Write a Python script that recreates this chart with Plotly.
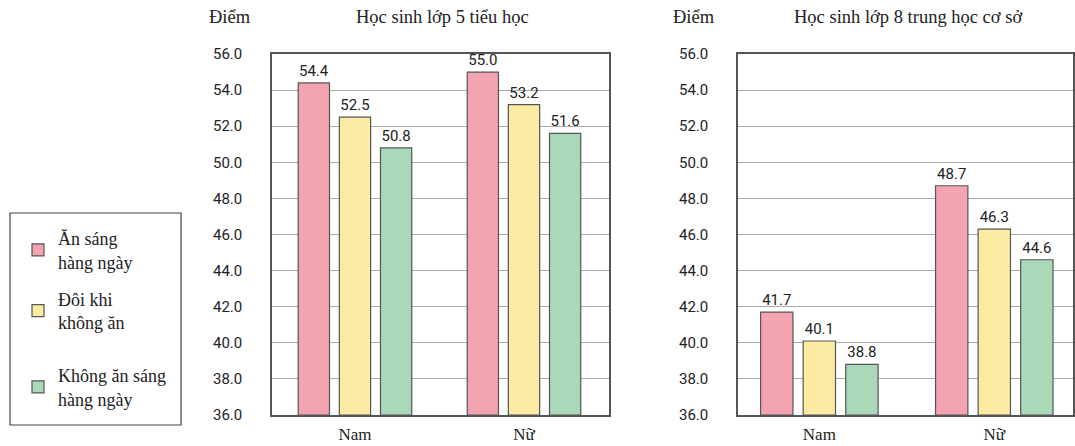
import plotly.graph_objects as go

categories = ["Nam", "Nữ"]
series_names = ["Ăn sáng<br>hàng ngày", "Đôi khi<br>không ăn", "Không ăn sáng<br>hàng ngày"]
grade5_values = [[54.4, 55.0], [52.5, 53.2], [50.8, 51.6]]
grade8_values = [[41.7, 48.7], [40.1, 46.3], [38.8, 44.6]]
y_ticks = [36.0, 38.0, 40.0, 42.0, 44.0, 46.0, 48.0, 50.0, 52.0, 54.0, 56.0]
titles = ["Học sinh lớp 5 tiểu học", "Học sinh lớp 8 trung học cơ sở"]
y_title = "Điểm"

colors = ["#F4A3B1", "#FCEBA2", "#A9D9B9"]
W, H = 1075, 446
SANS = "Liberation Sans Narrow, Arial Narrow, Roboto, sans-serif"
SERIF = "Liberation Serif, DejaVu Serif, serif"

fig = go.Figure()
legend_ids = ["legend", "legend", "legend2"]
for panel, vals in enumerate([grade5_values, grade8_values]):
    xa = "x" if panel == 0 else "x2"
    ya = "y" if panel == 0 else "y2"
    for i, name in enumerate(series_names):
        fig.add_trace(go.Bar(
            x=categories, y=[v - 36.0 for v in vals[i]], base=36.0,
            name=name, legendgroup=str(i), showlegend=(panel == 0), legend=legend_ids[i],
            marker=dict(color=colors[i], line=dict(color="#555555", width=1.2)),
            text=[f"{v:.1f}" for v in vals[i]], textposition="outside",
            textfont=dict(family=SANS, size=15, color="#222"),
            cliponaxis=False, xaxis=xa, yaxis=ya,
        ))

axis_common = dict(showline=True, linecolor="#555555", linewidth=1.5, mirror=True,
                   automargin=False, zeroline=False)
yaxis_common = dict(domain=[1 - 415 / H, 1 - 54 / H], range=[36, 56], tickvals=y_ticks,
                    ticktext=[f"{t:.1f}" for t in y_ticks], showgrid=True, gridcolor="#AAAAAA",
                    gridwidth=1, tickfont=dict(family=SANS, size=15, color="#222"),
                    ticks="", ticklabelstandoff=25, **axis_common)
xfont = dict(family=SERIF, size=17, color="#222")
tfont = dict(family=SERIF, size=18.5, color="#222")
lfont = dict(family=SERIF, size=18, color="#222")
legend_common = dict(xanchor="left", yanchor="top", font=lfont, tracegroupgap=11,
                     bgcolor="rgba(0,0,0,0)", borderwidth=0, itemwidth=30)
fig.update_layout(
    template="none",
    width=W, height=H, margin=dict(l=0, r=0, t=0, b=0, autoexpand=False),
    plot_bgcolor="white", paper_bgcolor="white",
    barmode="group", bargap=0.27, bargroupgap=0.24,
    xaxis=dict(domain=[272 / W, 609 / W], anchor="y", tickfont=xfont, ticks="",
               range=[-0.491, 1.503], showgrid=False, ticklabelstandoff=3, **axis_common),
    xaxis2=dict(domain=[738 / W, 1073 / W], anchor="y2", tickfont=xfont, ticks="",
                range=[-0.465, 1.45], showgrid=False, ticklabelstandoff=3, **axis_common),
    yaxis=dict(anchor="x", **yaxis_common),
    yaxis2=dict(anchor="x2", **yaxis_common),
    legend=dict(x=18 / W, y=1 - 220 / H, **legend_common),
    legend2=dict(x=18 / W, y=1 - 357 / H, **legend_common),
    showlegend=True,
    shapes=[dict(type="rect", xref="paper", yref="paper", x0=10 / W, x1=181 / W,
                 y0=1 - 425 / H, y1=1 - 213 / H, line=dict(color="#444", width=1.2))],
    annotations=[
        dict(text=titles[0], x=442 / W, y=1 - 17 / H, xref="paper", yref="paper",
             xanchor="center", yanchor="middle", showarrow=False, font=tfont),
        dict(text=titles[1], x=908 / W, y=1 - 17 / H, xref="paper", yref="paper",
             xanchor="center", yanchor="middle", showarrow=False, font=tfont),
        dict(text=y_title, x=230 / W, y=1 - 17 / H, xref="paper", yref="paper",
             xanchor="center", yanchor="middle", showarrow=False, font=tfont),
        dict(text=y_title, x=694 / W, y=1 - 17 / H, xref="paper", yref="paper",
             xanchor="center", yanchor="middle", showarrow=False, font=tfont),
    ],
)
fig.write_html("out.html", post_script="document.body.style.margin='0';",
               config={"displayModeBar": False})
